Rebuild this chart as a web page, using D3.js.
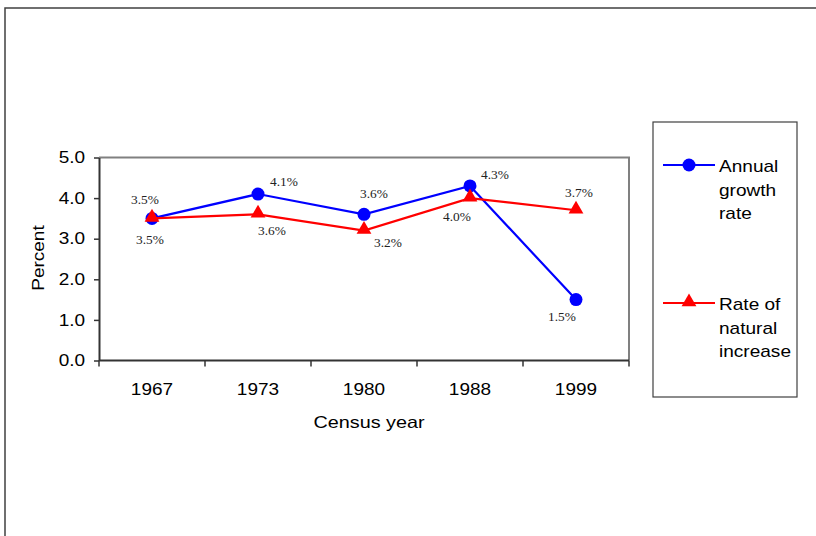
<!DOCTYPE html>
<html>
<head>
<meta charset="utf-8">
<script src="https://cdn.jsdelivr.net/npm/d3@7"></script>
<style>
  html, body { margin: 0; padding: 0; background: #fff; }
  svg { display: block; }
</style>
</head>
<body>
<svg id="chart" width="816" height="536"></svg>
<script>
// Census years and the two rate series (percent)
const years = ["1967", "1973", "1980", "1988", "1999"];
const annualGrowth = [3.5, 4.1, 3.6, 4.3, 1.5];
const naturalIncrease = [3.5, 3.6, 3.2, 4.0, 3.7];
const yTicks = [0, 1, 2, 3, 4, 5];

// Offsets of each value label relative to its point [dx, dy]
const growthLabelOffsets = [[-7, -18], [26, -12], [10, -20], [25, -11], [-14, 17]];
const increaseLabelOffsets = [[-2, 22], [14, 17], [24, 12], [-13, 19], [3, -17]];

const sans = "Arial, 'Liberation Sans', sans-serif";
const serif = "'Times New Roman', 'Liberation Serif', serif";

// Widen text horizontally (the chart's fonts are rendered slightly wide)
function widen(sel, factor) {
  sel.each(function () {
    const len = this.getComputedTextLength();
    d3.select(this).attr("textLength", len * factor).attr("lengthAdjust", "spacingAndGlyphs");
  });
}

const svg = d3.select("#chart");

// Outer frame
svg.append("rect")
  .attr("x", 5).attr("y", 8)
  .attr("width", 830).attr("height", 560)
  .attr("fill", "none").attr("stroke", "#404040").attr("stroke-width", 1.5);

const plot = { left: 99, right: 629, top: 157.5, bottom: 360.5 };

const x = d3.scaleBand().domain(years).range([plot.left, plot.right]);
const y = d3.scaleLinear().domain([0, 5]).range([plot.bottom, plot.top]);

// Plot area top/right border
svg.append("path")
  .attr("d", `M${plot.left},${plot.top}H${plot.right}V${plot.bottom}`)
  .attr("fill", "none").attr("stroke", "#808080").attr("stroke-width", 2);

// Y axis
const yAxis = svg.append("g")
  .attr("transform", `translate(${plot.left},0)`)
  .call(d3.axisLeft(y).tickValues(yTicks).tickFormat(d3.format(".1f")).tickSize(5).tickSizeOuter(0));
yAxis.select(".domain").attr("stroke", "#333").attr("stroke-width", 2);
yAxis.selectAll(".tick line").attr("stroke", "#333").attr("stroke-width", 1.5);
yAxis.selectAll(".tick text")
  .attr("x", -14)
  .attr("font-family", sans)
  .attr("font-size", 16.5).attr("fill", "#000")
  .call(widen, 1.15);

// X axis: ticks between categories
const xAxis = svg.append("g").attr("transform", `translate(0,${plot.bottom})`);
xAxis.append("line")
  .attr("x1", plot.left).attr("x2", plot.right)
  .attr("stroke", "#333").attr("stroke-width", 2);
const boundaries = years.map(d => x(d)).concat([plot.right]);
xAxis.selectAll("line.tick")
  .data(boundaries).join("line")
  .attr("class", "tick")
  .attr("x1", d => d).attr("x2", d => d)
  .attr("y1", 0).attr("y2", 6)
  .attr("stroke", "#333").attr("stroke-width", 1.5);
xAxis.selectAll("text")
  .data(years).join("text")
  .attr("x", d => x(d) + x.bandwidth() / 2)
  .attr("y", 34)
  .attr("text-anchor", "middle")
  .attr("font-family", sans)
  .attr("font-size", 16.5).attr("fill", "#000")
  .text(d => d)
  .call(widen, 1.15);

// Axis titles
svg.append("text")
  .attr("x", 369).attr("y", 428)
  .attr("text-anchor", "middle")
  .attr("font-family", sans)
  .attr("font-size", 16.5).attr("fill", "#000")
  .text("Census year")
  .call(widen, 1.2);
svg.append("text")
  .attr("transform", "translate(44,258) rotate(-90)")
  .attr("text-anchor", "middle")
  .attr("font-family", sans)
  .attr("font-size", 16.5).attr("fill", "#000")
  .text("Percent")
  .call(widen, 1.15);

const cx = d => x(d) + x.bandwidth() / 2;
const line = d3.line().x(d => cx(d.year)).y(d => y(d.value));

const growthData = years.map((yr, i) => ({ year: yr, value: annualGrowth[i] }));
const increaseData = years.map((yr, i) => ({ year: yr, value: naturalIncrease[i] }));

const triangle = d3.symbol().type(d3.symbolTriangle).size(95);

// Annual growth rate: blue line with circles
svg.append("path").datum(growthData)
  .attr("d", line).attr("fill", "none").attr("stroke", "#0000FF").attr("stroke-width", 2.2);
svg.selectAll("circle.growth").data(growthData).join("circle")
  .attr("class", "growth")
  .attr("cx", d => cx(d.year)).attr("cy", d => y(d.value))
  .attr("r", 6.5).attr("fill", "#0000FF");

// Rate of natural increase: red line with triangles
svg.append("path").datum(increaseData)
  .attr("d", line).attr("fill", "none").attr("stroke", "#FF0000").attr("stroke-width", 2.2);
svg.selectAll("path.increase").data(increaseData).join("path")
  .attr("class", "increase")
  .attr("transform", d => `translate(${cx(d.year)},${y(d.value) - 1})`)
  .attr("d", triangle).attr("fill", "#FF0000");

// Value labels
const pct = d3.format(".1f");
svg.selectAll("text.glabel").data(growthData).join("text")
  .attr("class", "glabel")
  .attr("x", (d, i) => cx(d.year) + growthLabelOffsets[i][0])
  .attr("y", (d, i) => y(d.value) + growthLabelOffsets[i][1] + 4)
  .attr("text-anchor", "middle")
  .attr("font-family", serif).attr("font-size", 12.5).attr("fill", "#222")
  .text(d => pct(d.value) + "%")
  .call(widen, 1.07);
svg.selectAll("text.ilabel").data(increaseData).join("text")
  .attr("class", "ilabel")
  .attr("x", (d, i) => cx(d.year) + increaseLabelOffsets[i][0])
  .attr("y", (d, i) => y(d.value) + increaseLabelOffsets[i][1] + 4)
  .attr("text-anchor", "middle")
  .attr("font-family", serif).attr("font-size", 12.5).attr("fill", "#222")
  .text(d => pct(d.value) + "%")
  .call(widen, 1.07);

// Legend
const legend = svg.append("g");
legend.append("rect")
  .attr("x", 653).attr("y", 122).attr("width", 144).attr("height", 275)
  .attr("fill", "#fff").attr("stroke", "#404040").attr("stroke-width", 1.2);

const legendItems = [
  { color: "#0000FF", shape: "circle", lines: ["Annual", "growth", "rate"], y: 165 },
  { color: "#FF0000", shape: "triangle", lines: ["Rate of", "natural", "increase"], y: 303 }
];
legendItems.forEach(item => {
  const g = legend.append("g");
  g.append("line")
    .attr("x1", 663).attr("x2", 715).attr("y1", item.y).attr("y2", item.y)
    .attr("stroke", item.color).attr("stroke-width", 2);
  if (item.shape === "circle") {
    g.append("circle").attr("cx", 689).attr("cy", item.y).attr("r", 6.5).attr("fill", item.color);
  } else {
    g.append("path").attr("transform", `translate(689,${item.y - 1})`)
      .attr("d", triangle).attr("fill", item.color);
  }
  g.selectAll("text").data(item.lines).join("text")
    .attr("x", 719)
    .attr("y", (d, i) => item.y + 7 + i * 23.5)
    .attr("font-family", sans)
    .attr("font-size", 17).attr("fill", "#000")
    .text(d => d)
    .call(widen, 1.12);
});
</script>
</body>
</html>
